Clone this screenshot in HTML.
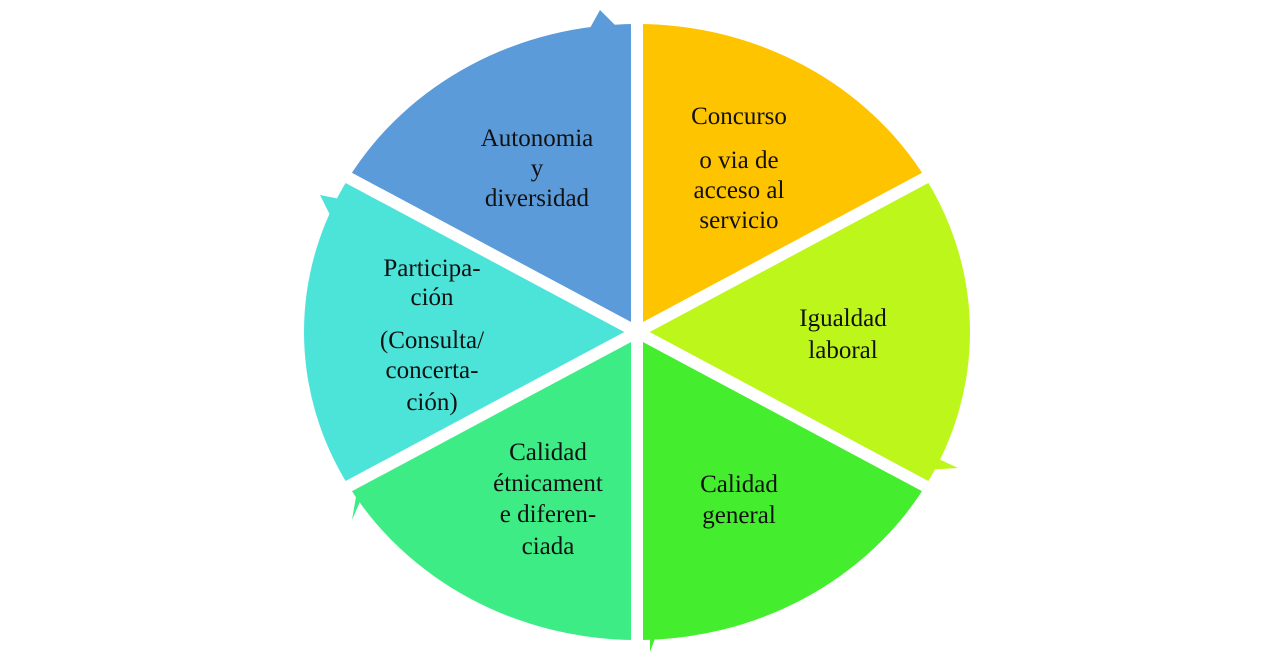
<!DOCTYPE html>
<html><head><meta charset="utf-8"><style>
body{margin:0;background:#fff;}
svg{display:block}
text{font-family:"Liberation Serif",serif;font-size:25px;fill:#111;text-anchor:middle}
</style></head><body>
<svg width="1265" height="667" viewBox="0 0 1265 667">
<g transform="translate(637,332) scale(333,308)">
<path d="M0 0 L0 -1 A1 1 0 0 1 0.866 -0.5 Z" fill="#ffc400"/>
<path d="M0 0 L0.866 -0.5 A1 1 0 0 1 0.866 0.5 Z" fill="#bdf61a"/>
<path d="M0 0 L0.866 0.5 A1 1 0 0 1 0 1 Z" fill="#44ee2e"/>
<path d="M0 0 L0 1 A1 1 0 0 1 -0.866 0.5 Z" fill="#3eec86"/>
<path d="M0 0 L-0.866 0.5 A1 1 0 0 1 -0.866 -0.5 Z" fill="#4ce3d9"/>
<path d="M0 0 L-0.866 -0.5 A1 1 0 0 1 0 -1 Z" fill="#5b9bd9"/>
</g>
<!-- arrow tips -->
<polygon points="590,28 600,10 620,30" fill="#5b9bd9"/>
<polygon points="915,195 928,185 935,205" fill="#bdf61a"/>
<polygon points="930,455 958,468 925,470" fill="#bdf61a"/>
<polygon points="660,625 650,652 650,620" fill="#44ee2e"/>
<polygon points="365,490 352,520 358,485" fill="#3eec86"/>
<polygon points="330,215 320,195 345,200" fill="#4ce3d9"/>
<!-- gaps -->
<g stroke="#fff" stroke-width="12">
<line x1="637" y1="332" x2="637" y2="0"/>
<line x1="637" y1="332" x2="637" y2="667"/>
<line x1="637" y1="332" x2="1213" y2="24"/>
<line x1="637" y1="332" x2="1213" y2="640"/>
<line x1="637" y1="332" x2="61" y2="24"/>
<line x1="637" y1="332" x2="61" y2="640"/>
</g>
<text x="537" y="146">Autonomia</text>
<text x="537" y="176">y</text>
<text x="537" y="206">diversidad</text>
<text x="739" y="124">Concurso</text>
<text x="739" y="168">o via de</text>
<text x="739" y="198">acceso al</text>
<text x="739" y="228">servicio</text>
<text x="843" y="326">Igualdad</text>
<text x="843" y="358">laboral</text>
<text x="739" y="492">Calidad</text>
<text x="739" y="523">general</text>
<text x="548" y="460">Calidad</text>
<text x="548" y="491">étnicament</text>
<text x="548" y="522">e diferen-</text>
<text x="548" y="554">ciada</text>
<text x="432" y="276">Participa-</text>
<text x="432" y="305">ción</text>
<text x="432" y="348">(Consulta/</text>
<text x="432" y="378">concerta-</text>
<text x="432" y="410">ción)</text>
</svg>
</body></html>
